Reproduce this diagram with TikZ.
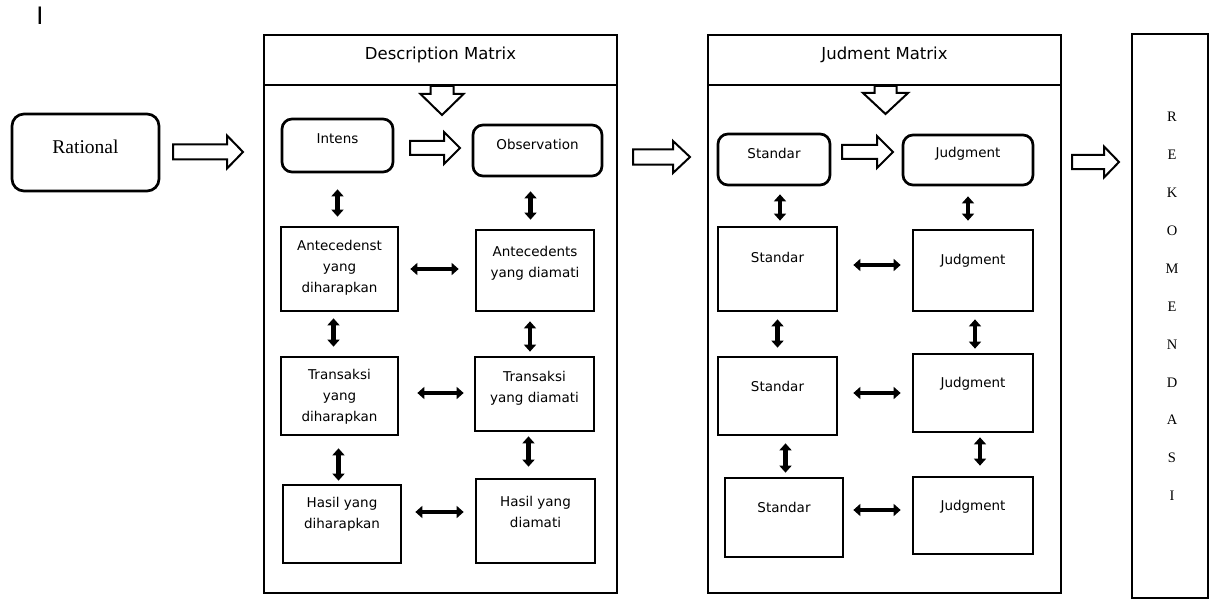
\documentclass[tikz,border=0pt]{standalone}
\usepackage{fontspec}
\setmainfont{DejaVu Sans}
\newfontfamily\seriffont{Liberation Serif}
\usetikzlibrary{arrows.meta}

\newcommand{\bodyfont}{\fontsize{13.5}{21}\selectfont}
\newcommand{\headfont}{\fontsize{16.5}{20}\selectfont}

% hollow block arrow: [options] {tail} {length} {shaft} {head width} {head length}
\newcommand{\blockarrow}[6][]{%
  \draw[hollow,#1] (#2) ++(0,-#4/2) -- ++(#3-#6,0) -- ++(0,-#5/2+#4/2)
    -- ++(#6,#5/2) -- ++(-#6,#5/2) -- ++(0,-#5/2+#4/2) -- ++(-#3+#6,0) -- cycle;}

\begin{document}
\begin{tikzpicture}[x=1pt, y=-1pt,
    box/.style={draw, line width=2.7pt, inner sep=0pt},
    rbox/.style={box, rounded corners=10pt},
    tx/.style={anchor=north, inner sep=0pt, align=center, font=\bodyfont},
    hollow/.style={draw, line width=2pt, fill=white, line join=miter},
    dbl/.style={line width=4.6pt, {Triangle[width=12pt,length=7pt]}-{Triangle[width=12pt,length=7pt]}},
    vd/.style 2 args={dbl, shorten <=#1pt, shorten >=#2pt},
    rek/.style={font=\seriffont\fontsize{14.5}{14}\selectfont, inner sep=0pt}
  ]
  \useasboundingbox (0,0) rectangle (1210,599);

  \node[font=\fontsize{24}{24}\selectfont, inner sep=0pt] (mark) at (40,16) {I};

  % rational
  \node[rbox, minimum width=147pt, minimum height=77pt, rounded corners=12pt,
    label={[tx, font=\seriffont\fontsize{19.5}{22}\selectfont, yshift=-27pt]north:Rational}] (rat) at (85.5,152.5) {};
  \blockarrow{173,152}{70}{15}{33}{16}

  % description matrix
  \node[box, minimum width=353pt, minimum height=50pt,
    label={[tx, font=\headfont, yshift=-13pt]north:Description Matrix}] (deschead) at (440.5,60) {};
  \node[box, minimum width=353pt, minimum height=508pt] (descbody) at (440.5,339) {};
  \blockarrow[rotate around={-90:(442,86)}]{442,86}{29}{23}{43}{21}

  \node[rbox, minimum width=111pt, minimum height=53pt,
    label={[tx, yshift=-16pt]north:Intens}] (intens) at (337.5,145.5) {};
  \node[rbox, minimum width=129pt, minimum height=51pt,
    label={[tx, yshift=-15pt]north:Observation}] (obs) at (537.5,150.5) {};
  \blockarrow{410,148}{50}{14}{32}{16}

  \node[box, minimum width=117pt, minimum height=84pt,
    label={[tx, yshift=-14pt]north:{Antecedenst\\yang\\diharapkan}}] (antA) at (339.5,269) {};
  \node[box, minimum width=118pt, minimum height=81pt,
    label={[tx, yshift=-17pt]north:{Antecedents\\yang diamati}}] (antB) at (535,270.5) {};
  \node[box, minimum width=117pt, minimum height=78pt,
    label={[tx, yshift=-13pt]north:{Transaksi\\yang\\diharapkan}}] (trA) at (339.5,396) {};
  \node[box, minimum width=119pt, minimum height=74pt,
    label={[tx, yshift=-15pt]north:{Transaksi\\yang diamati}}] (trB) at (534.5,394) {};
  \node[box, minimum width=118pt, minimum height=78pt,
    label={[tx, yshift=-13pt]north:{Hasil yang\\diharapkan}}] (hsA) at (342,524) {};
  \node[box, minimum width=119pt, minimum height=84pt,
    label={[tx, yshift=-18pt]north:{Hasil yang\\diamati}}] (hsB) at (535.5,521) {};

  \draw[vd={16}{9}] (intens.south) -- (intens.south |- antA.north);
  \draw[vd={14}{9}] ([xshift=-7pt]obs.south) -- ([xshift=-7pt]obs.south |- antB.north);
  \draw[vd={6}{9}] ([xshift=-6pt]antA.south) -- ([xshift=-6pt]antA.south |- trA.north);
  \draw[vd={9}{4}] ([xshift=-5pt]antB.south) -- ([xshift=-5pt]antB.south |- trB.north);
  \draw[vd={12}{3}] ([xshift=-1pt]trA.south) -- ([xshift=-1pt]trA.south |- hsA.north);
  \draw[vd={4}{11}] ([xshift=-6pt]trB.south) -- ([xshift=-6pt]trB.south |- hsB.north);

  \draw[vd={11}{16}] (antA.east) -- (antA.east -| antB.west);
  \draw[vd={18}{10}] ([yshift=3pt]trA.east) -- ([yshift=3pt]trA.east -| trB.west);
  \draw[vd={13}{11}] ([yshift=12pt]hsA.east) -- ([yshift=12pt]hsA.east -| hsB.west);

  \blockarrow{633,157}{57}{15}{32}{17}

  % judgment matrix
  \node[box, minimum width=353pt, minimum height=50pt,
    label={[tx, font=\headfont, yshift=-13pt]north:Judment Matrix}] (judghead) at (884.5,60) {};
  \node[box, minimum width=353pt, minimum height=508pt] (judgbody) at (884.5,339) {};
  \blockarrow[rotate around={-90:(885.5,86)}]{885.5,86}{28}{22}{45}{21}

  \node[rbox, minimum width=112pt, minimum height=51pt,
    label={[tx, yshift=-15pt]north:Standar}] (stdA) at (774,159.5) {};
  \node[rbox, minimum width=130pt, minimum height=50pt,
    label={[tx, yshift=-13pt]north:Judgment}] (jdA) at (968,160) {};
  \blockarrow{842,152}{51}{14}{32}{16}

  \node[box, minimum width=119pt, minimum height=84pt,
    label={[tx, yshift=-26pt]north:Standar}] (std2) at (777.5,269) {};
  \node[box, minimum width=120pt, minimum height=81pt,
    label={[tx, yshift=-25pt]north:Judgment}] (jd2) at (973,270.5) {};
  \node[box, minimum width=119pt, minimum height=78pt,
    label={[tx, yshift=-25pt]north:Standar}] (std3) at (777.5,396) {};
  \node[box, minimum width=120pt, minimum height=78pt,
    label={[tx, yshift=-24pt]north:Judgment}] (jd3) at (973,393) {};
  \node[box, minimum width=118pt, minimum height=79pt,
    label={[tx, yshift=-25pt]north:Standar}] (std4) at (784,517.5) {};
  \node[box, minimum width=120pt, minimum height=77pt,
    label={[tx, yshift=-24pt]north:Judgment}] (jd4) at (973,515.5) {};

  \draw[vd={8}{5}] ([xshift=6pt]stdA.south) -- ([xshift=6pt]stdA.south |- std2.north);
  \draw[vd={10}{8}] (jdA.south) -- (jdA.south |- jd2.north);
  \draw[vd={7}{8}] (std2.south) -- (std2.south |- std3.north);
  \draw[vd={7}{4}] ([xshift=2pt]jd2.south) -- ([xshift=2pt]jd2.south |- jd3.north);
  \draw[vd={7}{4}] ([xshift=8pt]std3.south) -- ([xshift=8pt]std3.south |- std4.north);
  \draw[vd={4}{10}] ([xshift=7pt]jd3.south) -- ([xshift=7pt]jd3.south |- jd4.north);

  \draw[vd={15}{11}] ([yshift=4pt]std2.east) -- ([yshift=4pt]std2.east -| jd2.west);
  \draw[vd={15}{11}] ([yshift=3pt]std3.east) -- ([yshift=3pt]std3.east -| jd3.west);
  \draw[vd={9}{11}] ([yshift=7.5pt]std4.east) -- ([yshift=7.5pt]std4.east -| jd4.west);

  \blockarrow{1072,162}{47}{14}{31}{15}

  % rekomendasi
  \node[box, minimum width=76pt, minimum height=564pt] (rekbox) at (1170,316) {};
  \foreach \l [count=\i] in {R,E,K,O,M,E,N,D,A,S,I}
    \node[rek] (r\i) at (1172,{117+37.9*(\i-1)}) {\l};
\end{tikzpicture}
\end{document}
